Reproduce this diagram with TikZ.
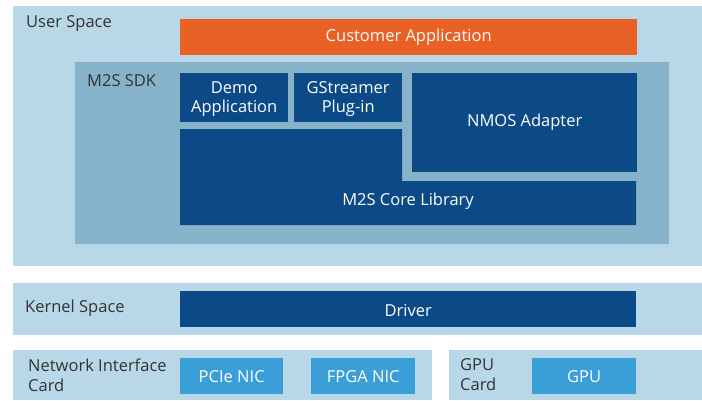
\documentclass[tikz,border=0pt]{standalone}
\usepackage{fontspec}
\setmainfont{Open Sans}
\definecolor{lightbg}{HTML}{B8D7E7}
\definecolor{midbg}{HTML}{86B3CA}
\definecolor{darkbox}{HTML}{0B4A86}
\definecolor{orangebox}{HTML}{EA6126}
\definecolor{brightbox}{HTML}{3A9ED9}
\definecolor{labeltext}{HTML}{333333}
\begin{document}
\begin{tikzpicture}[x=1pt,y=-1pt,
  area/.style={fill=lightbg, draw=none},
  sdkarea/.style={fill=midbg, draw=none},
  boxfont/.style={font=\fontsize{16.5}{19}\selectfont},
  boxbase/.style={draw=none, text=white, boxfont, align=center, inner sep=0pt},
  dbox/.style={boxbase, fill=darkbox},
  obox/.style={boxbase, fill=orangebox},
  bbox/.style={boxbase, fill=brightbox},
  lbl/.style={text=labeltext, font=\fontsize{16.5}{20}\selectfont, align=left, inner sep=0pt, anchor=west}]
\useasboundingbox (0,0) rectangle (702,400);
\fill[white] (0,0) rectangle (702,400);
% areas
\fill[area] (13,6) rectangle (702,266);
\fill[sdkarea] (75,62) rectangle (669,244);
\fill[area] (13,283) rectangle (702,335);
\fill[area] (13,350) rectangle (432,400);
\fill[area] (449,350) rectangle (702,400);
% labels
\node[lbl] (userlbl) at (26,24) {User Space};
\node[lbl] (sdklbl) at (87,81) {M2S SDK};
\node[lbl] (kernlbl) at (25,308) {Kernel Space};
\node[lbl] (niclbl) at (28,375) {Network Interface\\Card};
\node[lbl] (gpulbl) at (460,375) {GPU\\Card};
% boxes
\node[obox, minimum width=457, minimum height=36, anchor=north west] (cust) at (180,19) {Customer Application};
\node[dbox, minimum width=108, minimum height=49, anchor=north west] (demo) at (180,73) {};
\node[boxbase] (demotxt) at ([yshift=-1.5pt]demo.center) {Demo\\Application};
\node[dbox, minimum width=108, minimum height=49, anchor=north west] (gst) at (294,73) {};
\node[boxbase] (gsttxt) at ([yshift=-1.5pt]gst.center) {GStreamer\\Plug-in};
\node[dbox, minimum width=225, minimum height=99, anchor=north west] (nmos) at (412,73) {NMOS Adapter};
\fill[darkbox] (180,129) -- (402,129) -- (402,181) -- (636,181) -- (636,225) -- (180,225) -- cycle;
\node[boxbase] (core) at (408,201) {M2S Core Library};
\node[dbox, minimum width=456, minimum height=36, anchor=north west] (drv) at (180,291) {};
\node[boxbase] (drvtxt) at ([yshift=-1pt]drv.center) {Driver};
\node[bbox, minimum width=103, minimum height=36, anchor=north west] (pcie) at (180,358) {PCIe NIC};
\node[bbox, minimum width=104, minimum height=36, anchor=north west] (fpga) at (311,358) {FPGA NIC};
\node[bbox, minimum width=104, minimum height=36, anchor=north west] (gpu) at (532,358) {GPU};
\end{tikzpicture}
\end{document}
